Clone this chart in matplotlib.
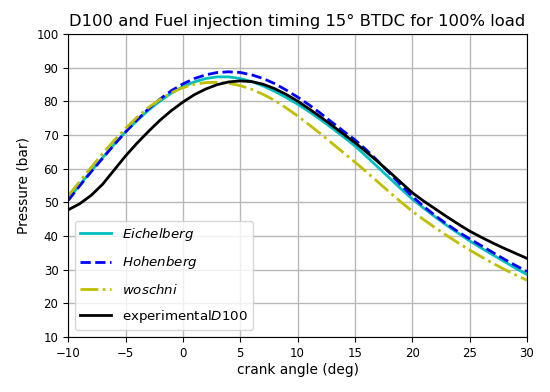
import matplotlib.pyplot as plt
import numpy as np

# crank angle (deg)
crank_angle = list(range(-10, 31))

eichelberg = [51.0, 55.2, 59.3, 63.3, 67.2, 71.0, 74.3, 77.4, 80.1, 82.5,
              84.4, 85.8, 86.8, 87.3, 87.3, 86.8, 85.9, 84.6, 83.0, 81.2,
              79.2, 77.0, 74.6, 72.1, 69.5, 66.8, 63.7, 60.5, 57.3, 54.1,
              51.0, 48.3, 45.7, 43.2, 40.9, 38.6, 36.5, 34.5, 32.5, 30.5, 28.6]

hohenberg = [50.6, 54.9, 59.1, 63.1, 67.1, 70.9, 74.5, 77.8, 80.7, 83.2,
             85.2, 86.8, 87.9, 88.6, 88.8, 88.6, 87.9, 86.8, 85.3, 83.4,
             81.3, 79.0, 76.5, 73.8, 71.2, 68.6, 65.6, 62.3, 58.8, 55.2,
             51.8, 48.8, 46.1, 43.6, 41.3, 39.2, 37.2, 35.2, 33.2, 31.3, 29.5]

woschni = [52.0, 56.2, 60.4, 64.5, 68.4, 72.0, 75.3, 78.2, 80.6, 82.6,
           84.1, 85.1, 85.6, 85.7, 85.4, 84.7, 83.6, 82.1, 80.3, 78.1,
           75.7, 73.1, 70.4, 67.6, 64.8, 62.0, 59.1, 56.1, 53.1, 50.2,
           47.4, 44.9, 42.5, 40.2, 38.0, 35.9, 33.9, 32.0, 30.2, 28.5, 26.9]

experimental = [47.8, 49.6, 52.1, 55.4, 59.6, 63.8, 67.6, 71.1, 74.4, 77.3,
                79.8, 82.0, 83.7, 85.0, 85.8, 86.1, 85.9, 85.1, 83.8, 82.1,
                80.1, 77.8, 75.4, 72.9, 70.3, 67.8, 65.0, 62.1, 59.1, 56.0,
                52.9, 50.4, 48.1, 45.8, 43.6, 41.5, 39.7, 38.0, 36.4, 34.9, 33.4]

fig = plt.figure(figsize=(5.5, 3.92), dpi=100)
ax = fig.add_axes([0.124, 0.140, 0.834, 0.773])

ax.plot(crank_angle, eichelberg, 'c', lw=2, label='$Eichelberg$')
ax.plot(crank_angle, hohenberg, 'b--', lw=2, label='$Hohenberg$')
ax.plot(crank_angle, woschni, 'y-.', lw=2, label='$woschni$')
ax.plot(crank_angle, experimental, 'k', lw=2, label='experimental$D100$')

ax.set_xlim(-10, 30)
ax.set_ylim(10, 100)
ax.set_xticks(np.arange(-10, 31, 5))
ax.set_yticks(np.arange(10, 101, 10))
ax.tick_params(labelsize=8.5)
ax.grid(True, color='#b8b8b8', lw=1)

ax.set_xlabel('crank angle (deg)', fontsize=9.9, labelpad=2)
ax.set_ylabel('Pressure (bar)', fontsize=9.9)
ax.set_title('D100 and Fuel injection timing 15° BTDC for 100% load', fontsize=11.8)
ax.legend(loc='lower left', fontsize=9.6, labelspacing=0.85, handlelength=2.3)

plt.savefig('out.png', dpi=100)
